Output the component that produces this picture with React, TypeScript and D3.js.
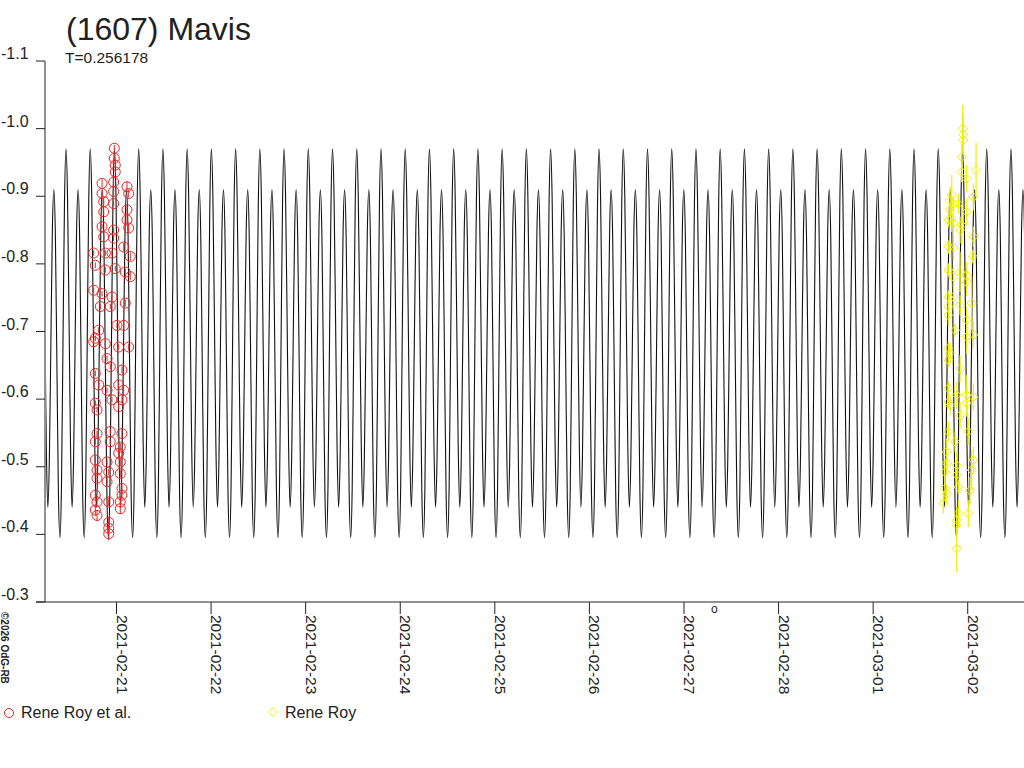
import React from "react";
import * as d3 from "d3";

// ---- data ----
const title = "(1607) Mavis";
const periodLabel = "T=0.256178";
const periodDays = 0.256178;
const baseDate = Date.UTC(2021, 1, 21); // 2021-02-21 00:00 UTC
const xStartDays = -0.756;
const xEndDays = 9.595;
const yDomain = [-1.1, -0.3];
const yTicks = [-1.1, -1.0, -0.9, -0.8, -0.7, -0.6, -0.5, -0.4, -0.3];
const epochMaxDays = -0.534; // a time of the brighter maximum (days from base)

// one rotation of the model curve: [phase, magnitude]
const curveShape: [number, number][] = [
  [0.0, -0.97], [0.0625, -0.9], [0.125, -0.72], [0.1875, -0.53],
  [0.25, -0.44], [0.3125, -0.51], [0.375, -0.68], [0.4375, -0.85],
  [0.5, -0.91], [0.5625, -0.84], [0.625, -0.65], [0.6875, -0.46],
  [0.75, -0.395], [0.8125, -0.47], [0.875, -0.68], [0.9375, -0.89],
];

// Rene Roy et al.: [days from 2021-02-21, mag, err]
const seriesA: [number, number, number][] = [
  [-0.023, -0.971, 0.005], [-0.023, -0.956, 0.005], [-0.013, -0.946, 0.004], [-0.013, -0.936, 0.004],
  [-0.03, -0.921, 0.004], [-0.153, -0.919, 0.006], [-0.153, -0.904, 0.005], [0.111, -0.914, 0.008],
  [0.129, -0.904, 0.006], [-0.135, -0.892, 0.005], [-0.03, -0.907, 0.004], [-0.03, -0.889, 0.004],
  [-0.135, -0.877, 0.005], [0.111, -0.88, 0.006], [0.111, -0.865, 0.006], [0.129, -0.853, 0.006],
  [-0.153, -0.855, 0.004], [-0.135, -0.84, 0.004], [-0.03, -0.85, 0.004], [-0.03, -0.838, 0.004],
  [-0.241, -0.816, 0.004], [-0.118, -0.816, 0.004], [-0.048, -0.816, 0.004], [0.076, -0.825, 0.006],
  [0.146, -0.811, 0.006], [-0.224, -0.798, 0.004], [-0.118, -0.791, 0.004], [-0.013, -0.793, 0.004],
  [0.093, -0.788, 0.005], [0.146, -0.781, 0.005], [-0.241, -0.761, 0.004], [-0.153, -0.756, 0.004],
  [-0.048, -0.751, 0.004], [0.093, -0.742, 0.005], [-0.171, -0.737, 0.004], [-0.066, -0.737, 0.004],
  [-0.188, -0.702, 0.004], [0.005, -0.709, 0.004], [0.076, -0.709, 0.005], [-0.224, -0.69, 0.004],
  [-0.241, -0.685, 0.004], [-0.118, -0.682, 0.004], [0.023, -0.677, 0.004], [0.129, -0.677, 0.005],
  [-0.1, -0.66, 0.004], [-0.224, -0.638, 0.004], [-0.066, -0.648, 0.004], [0.058, -0.643, 0.005],
  [-0.188, -0.621, 0.004], [-0.1, -0.613, 0.004], [0.023, -0.621, 0.004], [0.076, -0.613, 0.005],
  [-0.224, -0.594, 0.004], [-0.048, -0.599, 0.004], [0.058, -0.599, 0.005], [-0.206, -0.584, 0.004],
  [0.023, -0.589, 0.004], [-0.206, -0.549, 0.004], [-0.066, -0.552, 0.004], [0.058, -0.549, 0.006],
  [-0.224, -0.537, 0.004], [-0.066, -0.537, 0.004], [0.04, -0.529, 0.006], [0.023, -0.52, 0.006],
  [-0.224, -0.51, 0.005], [-0.1, -0.507, 0.005], [0.04, -0.507, 0.006], [-0.206, -0.495, 0.005],
  [-0.082, -0.492, 0.005], [0.04, -0.49, 0.006], [-0.206, -0.483, 0.005], [-0.1, -0.478, 0.005],
  [0.058, -0.468, 0.006], [0.058, -0.458, 0.006], [-0.224, -0.458, 0.006], [-0.206, -0.448, 0.006],
  [-0.082, -0.448, 0.006], [0.04, -0.448, 0.008], [-0.224, -0.436, 0.008], [0.04, -0.438, 0.008],
  [-0.206, -0.428, 0.008], [-0.082, -0.418, 0.008], [-0.082, -0.409, 0.008], [-0.082, -0.401, 0.01],
];

// Rene Roy: [days from 2021-02-21, mag, err]
const seriesB: [number, number, number][] = [
  [8.947, -1.0, 0.035], [8.953, -0.991, 0.03], [8.953, -0.983, 0.02], [8.937, -0.958, 0.02],
  [9.088, -0.939, 0.04], [8.937, -0.936, 0.015], [8.989, -0.926, 0.02], [8.831, -0.902, 0.03],
  [9.059, -0.899, 0.02], [8.813, -0.894, 0.02], [8.848, -0.889, 0.01], [8.901, -0.889, 0.015],
  [8.813, -0.88, 0.01], [8.989, -0.877, 0.02], [8.831, -0.867, 0.02], [8.795, -0.865, 0.01],
  [8.848, -0.86, 0.015], [8.937, -0.857, 0.03], [8.919, -0.85, 0.02], [9.059, -0.84, 0.015],
  [8.795, -0.825, 0.01], [8.848, -0.825, 0.02], [9.053, -0.811, 0.01], [8.795, -0.791, 0.01],
  [8.919, -0.788, 0.03], [8.848, -0.781, 0.015], [8.989, -0.783, 0.02], [8.989, -0.773, 0.02],
  [8.795, -0.751, 0.01], [8.848, -0.751, 0.02], [8.919, -0.739, 0.015], [9.042, -0.742, 0.04],
  [8.795, -0.737, 0.01], [8.795, -0.724, 0.015], [8.989, -0.717, 0.02], [8.866, -0.702, 0.01],
  [8.989, -0.692, 0.025], [9.059, -0.695, 0.02], [8.795, -0.675, 0.01], [8.813, -0.668, 0.015],
  [8.795, -0.658, 0.01], [8.919, -0.645, 0.02], [8.795, -0.616, 0.01], [8.884, -0.606, 0.02],
  [8.989, -0.606, 0.03], [8.795, -0.596, 0.01], [8.813, -0.591, 0.015], [8.989, -0.594, 0.02],
  [9.059, -0.603, 0.02], [8.919, -0.576, 0.02], [8.795, -0.552, 0.015], [9.006, -0.552, 0.02],
  [8.866, -0.537, 0.015], [8.778, -0.522, 0.02], [9.059, -0.51, 0.02], [8.778, -0.505, 0.015],
  [8.884, -0.502, 0.02], [9.042, -0.495, 0.03], [8.76, -0.492, 0.02], [8.884, -0.488, 0.015],
  [8.901, -0.47, 0.01], [8.76, -0.468, 0.02], [8.778, -0.46, 0.015], [9.024, -0.465, 0.02],
  [8.742, -0.446, 0.015], [9.006, -0.431, 0.02], [8.901, -0.431, 0.02], [8.884, -0.421, 0.02],
  [8.884, -0.414, 0.02], [8.884, -0.379, 0.035],
];

const legendA = "Rene Roy et al.";
const legendB = "Rene Roy";
const copyright = "©2026 OdG-RB";

const DAY = 86400000;
const FONT = "'Liberation Sans', Arial, Helvetica, sans-serif";
const RED = "#ee2222";
const YEL = "#f0f000";
const INK = "#222";

export default function App() {
  const W = 1024, H = 768;
  const left = 45, right = 1024, top = 61, bottom = 602;
  const x = d3.scaleUtc()
    .domain([new Date(baseDate + xStartDays * DAY), new Date(baseDate + xEndDays * DAY)])
    .range([left, right]);
  const y = d3.scaleLinear().domain(yDomain).range([top, bottom]);
  const tx = (d: number) => x(new Date(baseDate + d * DAY));

  // model curve: repeat the one-rotation shape over the whole span
  const kStart = Math.floor((xStartDays - epochMaxDays) / periodDays) - 1;
  const kEnd = Math.ceil((xEndDays - epochMaxDays) / periodDays) + 1;
  const pts: [number, number][] = [];
  for (let k = kStart; k <= kEnd; k++) {
    for (const [ph, m] of curveShape) {
      pts.push([epochMaxDays + (k + ph) * periodDays, m]);
    }
  }
  const line = d3.line<[number, number]>()
    .x((d) => tx(d[0]))
    .y((d) => y(d[1]))
    .curve(d3.curveMonotoneX);

  const xTicks = d3.utcDay.range(
    new Date(baseDate + Math.ceil(xStartDays) * DAY),
    new Date(baseDate + xEndDays * DAY)
  );
  const fmt = d3.utcFormat("%Y-%m-%d");
  const diamond = (cx: number, cy: number, r: number) =>
    `M${cx},${cy - r}L${cx + r},${cy}L${cx},${cy + r}L${cx - r},${cy}Z`;

  return (
    <div style={{ position: "absolute", left: 0, top: 0 }}>
      <svg width={W} height={H} style={{ display: "block", background: "#fff" }} fontFamily={FONT}>
        <defs>
          <clipPath id="plot">
            <rect x={left + 1} y={0} width={right - left} height={bottom} />
          </clipPath>
        </defs>
        <text x={66} y={40} fontSize={32} fill={INK}>{title}</text>
        <text x={65} y={63} fontSize={15.5} fill={INK}>{periodLabel}</text>

        {/* y axis */}
        <line x1={left} x2={left} y1={y(yDomain[0])} y2={bottom} stroke={INK} />
        {yTicks.map((t) => (
          <g key={t}>
            <line x1={36} x2={left} y1={y(t)} y2={y(t)} stroke={INK} />
            <text x={1} y={y(t) - 2} fontSize={16} fill={INK}>{t.toFixed(1)}</text>
          </g>
        ))}
        {/* x axis */}
        <line x1={36} x2={right} y1={bottom} y2={bottom} stroke={INK} />
        {xTicks.map((d) => {
          const px = x(d);
          return (
            <g key={+d}>
              <line x1={px} x2={px} y1={bottom} y2={bottom + 12} stroke={INK} />
              <text transform={`translate(${px},${bottom + 13}) rotate(90)`} fontSize={15.5} fill={INK}>
                {fmt(d)}
              </text>
            </g>
          );
        })}
        <text x={711} y={613} fontSize={12} fill={INK}>o</text>

        {/* model curve */}
        <g clipPath="url(#plot)">
          <path d={line(pts) ?? ""} fill="none" stroke="#111" strokeWidth={1.1} />
        </g>

        {/* Rene Roy et al. */}
        <g>
          {seriesA.map(([t, m, e], i) => (
            <g key={i}>
              <line x1={tx(t)} x2={tx(t)} y1={y(m - e)} y2={y(m + e)} stroke={RED} />
              <circle cx={tx(t)} cy={y(m)} r={5} fill="none" stroke={RED} />
            </g>
          ))}
        </g>
        {/* Rene Roy */}
        <g>
          {seriesB.map(([t, m, e], i) => (
            <g key={i}>
              <line x1={tx(t)} x2={tx(t)} y1={y(m - e)} y2={y(m + e)} stroke={YEL} strokeWidth={1.2} />
              <path d={diamond(tx(t), y(m), 4.5)} fill="none" stroke={YEL} />
            </g>
          ))}
        </g>

        {/* copyright */}
        <text transform="translate(1,612) rotate(90)" fontSize={10} fontWeight="bold" fill={INK}>{copyright}</text>

        {/* legend */}
        <circle cx={9} cy={713} r={4.5} fill="none" stroke={RED} />
        <text x={21} y={718} fontSize={16} fill={INK}>{legendA}</text>
        <path d={diamond(273, 712, 4.5)} fill="none" stroke={YEL} />
        <text x={285} y={718} fontSize={16} fill={INK}>{legendB}</text>
      </svg>
    </div>
  );
}
